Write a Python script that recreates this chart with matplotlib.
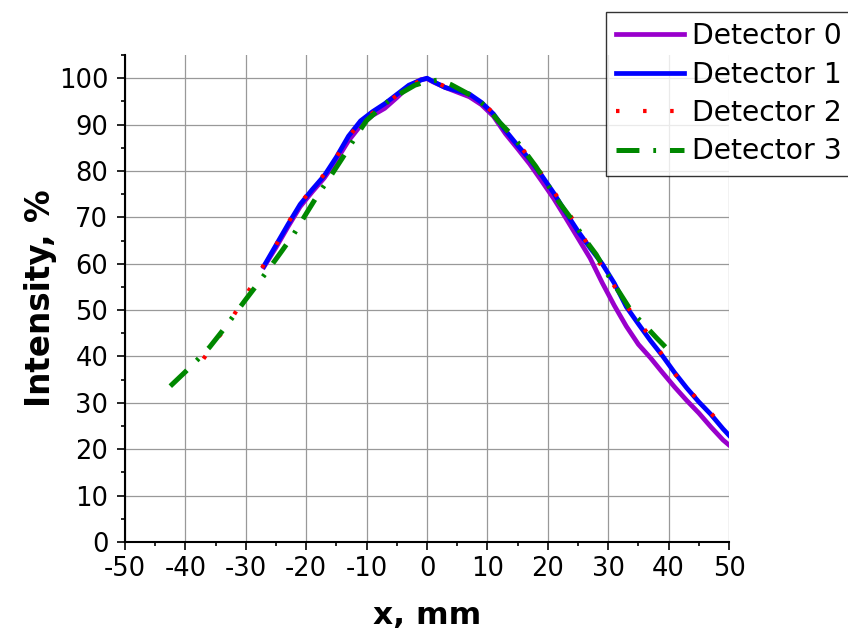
import numpy as np
import matplotlib
matplotlib.use("Agg")
import matplotlib.pyplot as plt
from matplotlib.ticker import MultipleLocator

plt.rcParams['font.family'] = ['DejaVu Sans']
plt.rcParams['lines.scale_dashes'] = False

# Detector 0 (purple)
x0 = [-27, -25, -23, -21, -19, -17, -15, -13, -11, -9, -7, -5, -3, -1, 0, 1, 3, 5, 7, 9,
      11, 13, 15, 17, 19, 21, 23, 25, 27, 29, 31, 33, 35, 37, 39, 41, 43, 45, 47, 49, 50]
y0 = [59.3, 63.5, 68.0, 72.3, 75.5, 78.5, 82.3, 86.5, 89.8, 92.0, 93.5, 95.8, 98.3, 99.7, 99.9,
      99.2, 98.0, 97.0, 96.0, 94.3, 91.8, 88.0, 84.8, 81.5, 77.8, 74.0, 69.8, 65.5, 61.2, 55.9,
      51.0, 46.5, 42.6, 39.7, 36.5, 33.4, 30.5, 27.8, 24.8, 22.0, 20.9]

# Detector 1 (blue)
x1 = [-27, -25, -23, -21, -19, -17, -15, -13, -11, -9, -7, -5, -3, -1, 0, 1, 3, 5, 7, 9,
      11, 13, 15, 17, 19, 21, 23, 25, 27, 29, 31, 33, 35, 37, 39, 41, 43, 45, 47, 49, 50]
y1 = [59.5, 64.0, 68.5, 72.8, 76.0, 79.0, 83.0, 87.5, 90.8, 92.8, 94.5, 96.5, 98.5, 99.6, 100.0,
      99.3, 98.0, 97.3, 96.6, 94.8, 92.3, 88.7, 85.5, 82.5, 79.0, 75.2, 71.0, 67.0, 63.4, 60.0,
      55.8, 50.7, 47.0, 43.4, 40.1, 36.5, 33.2, 30.2, 27.5, 24.4, 23.0]

# Detector 2 (red dots)
x2 = [-37, -35, -33, -31, -29, -27, -25, -23, -21, -19, -17, -15, -13, -11, -9, -7, -5, -3, -1, 0,
      1, 3, 5, 7, 9, 11, 13, 15, 17, 19, 21, 23, 25, 27, 29, 31, 33, 35, 37, 39, 41, 43, 45, 47, 49, 50]
y2 = [39.5, 43.3, 46.8, 51.0, 55.3, 59.8, 64.0, 68.8, 73.0, 76.2, 79.3, 83.0, 87.3, 90.6, 92.5,
      94.3, 96.3, 98.3, 99.5, 99.8, 99.4, 98.2, 97.3, 96.5, 94.8, 92.5, 89.0, 86.0, 82.8, 79.3,
      75.5, 71.8, 67.8, 63.2, 59.3, 55.2, 51.0, 47.5, 44.2, 40.2, 36.3, 33.2, 30.5, 27.8, 24.8, 23.2]

# Detector 3 (green dash-dot)
x3 = [-42.5, -40, -38, -36, -34, -32, -30, -28, -26, -24, -22, -20, -18, -16, -14, -12, -10, -8,
      -6, -4, -2, 0, 2, 4, 6, 8, 10, 12, 14, 16, 18, 20, 22, 24, 26, 28, 30, 32, 34, 36, 38, 39.5]
y3 = [33.6, 36.7, 39.3, 42.0, 45.3, 48.8, 52.3, 55.7, 59.2, 62.8, 66.5, 70.8, 75.0, 78.8, 82.8,
      87.0, 90.9, 93.2, 95.5, 97.0, 98.5, 99.3, 99.6, 98.6, 97.2, 95.8, 93.6, 90.5, 87.8, 84.5,
      81.0, 77.0, 73.0, 69.5, 65.5, 62.0, 57.5, 53.5, 49.4, 46.8, 44.0, 42.0]

labels = ["Detector 0", "Detector 1", "Detector 2", "Detector 3"]

fig = plt.figure(figsize=(8.48, 6.33), dpi=100)
ax = fig.add_axes([0.1474, 0.1438, 0.8597 - 0.1474, 0.9131 - 0.1438])

ax.plot(x0, y0, color="#9900cc", lw=3.4, label=labels[0], zorder=3)
ax.plot(x1, y1, color="#0000ff", lw=3.4, label=labels[1], zorder=4)
ax.plot(x2, y2, color="#ff0000", lw=3.0, dashes=(2.5, 17), label=labels[2], zorder=5)
ax.plot(x3, y3, color="#008800", lw=3.6, dashes=(16.5, 10, 2, 10), label=labels[3], zorder=6)

ax.set_xlim(-50, 50)
ax.set_ylim(0, 105)
ax.xaxis.set_major_locator(MultipleLocator(10))
ax.xaxis.set_minor_locator(MultipleLocator(5))
ax.yaxis.set_major_locator(MultipleLocator(10))
ax.yaxis.set_minor_locator(MultipleLocator(5))
ax.xaxis.set_major_formatter(plt.FuncFormatter(lambda v, p: "%d" % v))
ax.yaxis.set_major_formatter(plt.FuncFormatter(lambda v, p: "%d" % v))

for s in ["top", "right"]:
    ax.spines[s].set_visible(False)
for s in ["left", "bottom"]:
    ax.spines[s].set_linewidth(1.5)

ax.tick_params(which="major", direction="out", length=6, width=1.2, labelsize=18.5, pad=4)
ax.tick_params(which="minor", direction="out", length=3, width=1.2)
ax.tick_params(axis="y", which="major", pad=6)
ax.grid(True, which="major", color="#999999", lw=0.9, zorder=0)
ax.set_axisbelow(True)

ax.set_xlabel("x, mm", fontsize=22.5, fontweight="bold", labelpad=14)
ax.set_ylabel("Intensity, %", fontsize=23.5, fontweight="bold", labelpad=1)

leg = fig.legend(loc="upper left", bbox_to_anchor=(606 / 848, 1 - 12 / 633),
                 fontsize=20.3, frameon=True, fancybox=False, edgecolor="black",
                 handlelength=2.4, handletextpad=0.3, labelspacing=0.37,
                 borderpad=0.36, borderaxespad=0)
leg.get_frame().set_linewidth(1.0)

fig.savefig("out.png", dpi=100)
